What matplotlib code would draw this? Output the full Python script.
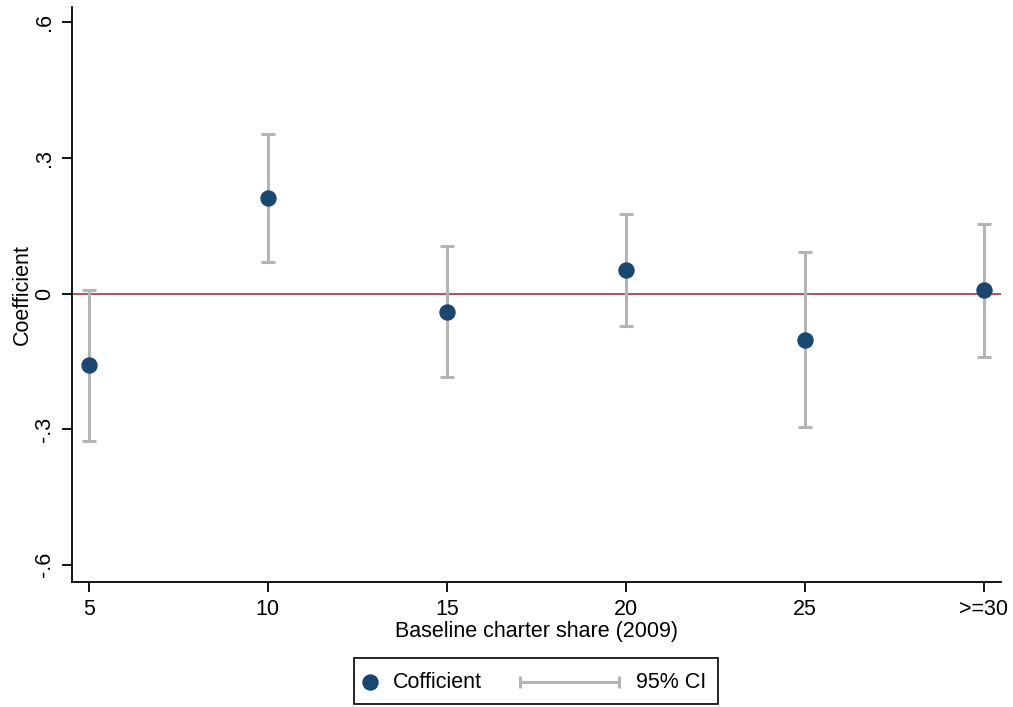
import matplotlib.pyplot as plt
from matplotlib.lines import Line2D
from matplotlib.patches import Rectangle

plt.rcParams['font.family'] = ['Liberation Sans', 'DejaVu Sans']

# data
x_pos = [5, 10, 15, 20, 25, 30]
x_labels = ['5', '10', '15', '20', '25', '>=30']
coef = [-0.159, 0.212, -0.040, 0.053, -0.102, 0.009]
ci_low = [-0.325, 0.071, -0.185, -0.071, -0.296, -0.141]
ci_high = [0.009, 0.353, 0.106, 0.177, 0.091, 0.155]
y_ticks = [-0.6, -0.3, 0, 0.3, 0.6]
y_labels = ['-.6', '-.3', '0', '.3', '.6']

navy = '#1a476f'
gray = '#b4b4b4'
maroon = '#a8343f'
fs = 15.5

W, H = 1013, 707
fig = plt.figure(figsize=(W / 100, H / 100), dpi=100)
ax = fig.add_axes([71.7 / W, 1 - 582 / H, (1001 - 71.7) / W, (582 - 7) / H])

ax.axhline(0, color=maroon, lw=1.2, zorder=1)

err_lo = [c - l for c, l in zip(coef, ci_low)]
err_hi = [h - c for c, h in zip(coef, ci_high)]
ax.errorbar(x_pos, coef, yerr=[err_lo, err_hi], fmt='none', ecolor=gray,
            elinewidth=2.2, capsize=4.8, capthick=2.2, zorder=2)
ax.plot(x_pos, coef, 'o', color=navy, markersize=10.8, zorder=3)

ax.set_xlim(4.525, 30.475)
ax.set_ylim(-0.638, 0.634)
ax.set_xticks(x_pos)
ax.set_xticklabels(x_labels)
ax.set_yticks(y_ticks)
ax.set_yticklabels(y_labels, rotation=90, va='center')

for s in ['top', 'right']:
    ax.spines[s].set_visible(False)
for s in ['left', 'bottom']:
    ax.spines[s].set_linewidth(1.3)
ax.tick_params(axis='both', length=7, width=1.3, labelsize=fs, pad=5)

ax.set_xlabel('Baseline charter share (2009)', fontsize=fs, labelpad=1)
ax.set_ylabel('Coefficient', fontsize=fs, labelpad=1)

# legend box drawn by hand so each key can have its own width
fig.add_artist(Rectangle((354 / W, 1 - 704 / H), (718 - 354) / W, (704 - 658) / H,
                         transform=fig.transFigure, facecolor='white',
                         edgecolor='black', lw=1.2))
ly = 1 - 682 / H
fig.add_artist(Line2D([370 / W], [ly], transform=fig.transFigure, ls='none',
                      marker='o', color=navy, markersize=10.8))
fig.text(393 / W, ly, 'Cofficient', fontsize=fs, va='center', ha='left')
fig.add_artist(Line2D([520 / W, 619 / W], [ly, ly], transform=fig.transFigure,
                      color=gray, lw=2.2, marker='|', markersize=9, mew=2.2))
fig.text(636 / W, ly, '95% CI', fontsize=fs, va='center', ha='left')

fig.savefig('out.png', dpi=100)
